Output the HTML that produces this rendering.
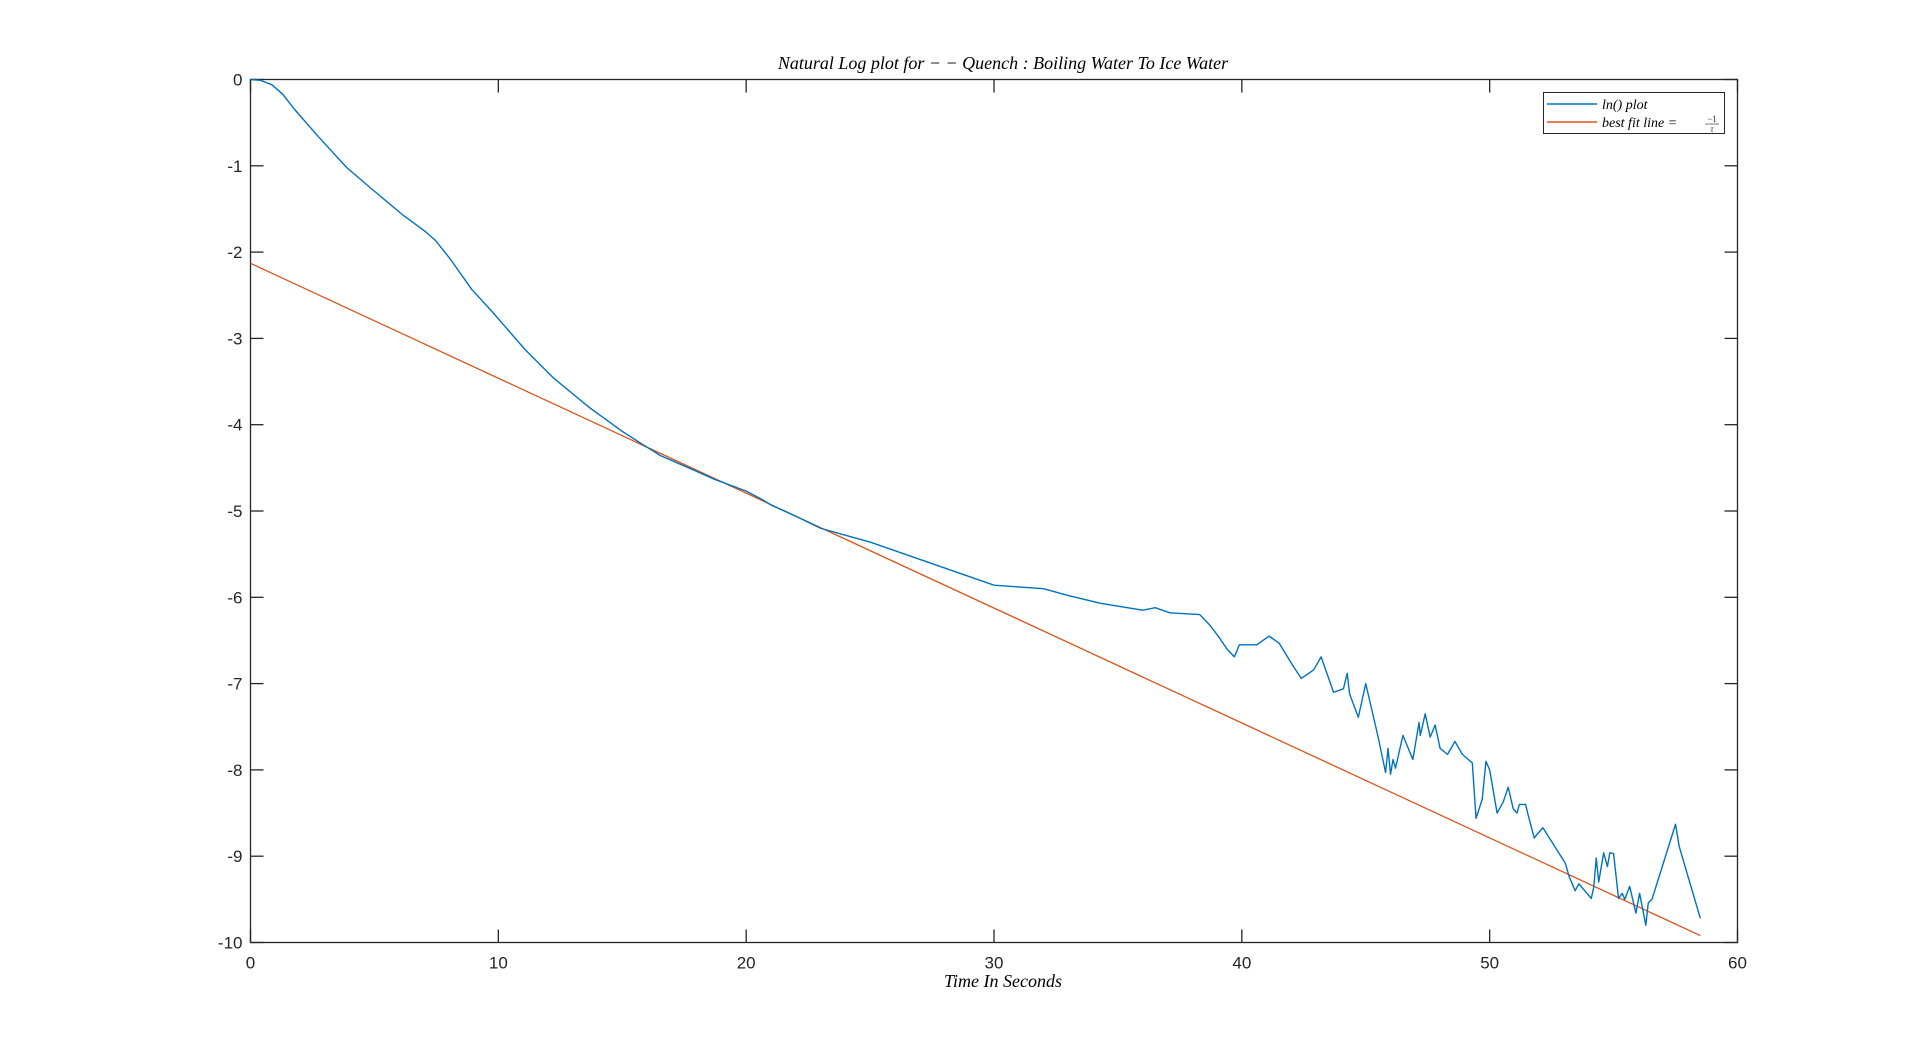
<!DOCTYPE html>
<html><head><meta charset="utf-8"><style>
html,body{margin:0;padding:0;background:#fff;}
svg{display:block;}
</style></head><body>
<svg id="chart" width="1920" height="1059" xmlns="http://www.w3.org/2000/svg"></svg>
<script>
const xTicks=[0,10,20,30,40,50,60];
const yTicks=[0,-1,-2,-3,-4,-5,-6,-7,-8,-9,-10];
const tVals=[0,0.4,0.86,1.3,1.73,2.73,3.88,4.9,6.19,7.05,7.48,8.06,8.92,9.78,11.08,12.23,13.67,14.96,15.83,16.55,17.84,18.7,20,20.6,21,22,23,24,25,26,27,28,29,30,31,32,33,34.3,36,36.5,37.1,38.3,38.7,39.1,39.4,39.7,39.9,40.6,41.1,41.5,42.1,42.4,42.9,43.2,43.7,44.1,44.25,44.35,44.7,45,45.5,45.8,45.9,46,46.1,46.2,46.5,46.9,47.15,47.2,47.4,47.6,47.8,48,48.3,48.6,48.9,49.3,49.45,49.7,49.85,50,50.3,50.55,50.75,50.95,51.1,51.2,51.45,51.55,51.8,51.9,52.15,53.05,53.2,53.45,53.6,54.1,54.2,54.3,54.4,54.6,54.75,54.85,55,55.2,55.35,55.45,55.65,55.9,56.05,56.3,56.4,56.55,57.5,57.65,58.5];
const lnVals=[0,-0.01,-0.06,-0.17,-0.33,-0.66,-1.02,-1.27,-1.58,-1.76,-1.87,-2.08,-2.43,-2.7,-3.13,-3.46,-3.8,-4.07,-4.23,-4.36,-4.52,-4.63,-4.77,-4.86,-4.93,-5.06,-5.2,-5.28,-5.36,-5.46,-5.56,-5.66,-5.76,-5.86,-5.88,-5.9,-5.98,-6.07,-6.15,-6.12,-6.18,-6.2,-6.32,-6.47,-6.6,-6.69,-6.55,-6.55,-6.45,-6.53,-6.81,-6.94,-6.84,-6.69,-7.1,-7.06,-6.88,-7.12,-7.39,-7.0,-7.62,-8.03,-7.75,-8.05,-7.88,-7.98,-7.6,-7.88,-7.45,-7.6,-7.35,-7.62,-7.48,-7.75,-7.82,-7.67,-7.82,-7.92,-8.56,-8.34,-7.9,-8.0,-8.5,-8.37,-8.2,-8.45,-8.5,-8.4,-8.4,-8.52,-8.79,-8.75,-8.67,-9.08,-9.23,-9.4,-9.32,-9.49,-9.36,-9.02,-9.3,-8.96,-9.12,-8.96,-8.97,-9.49,-9.43,-9.5,-9.35,-9.66,-9.43,-9.8,-9.54,-9.5,-8.63,-8.89,-9.72];
const fitT=[0,58.5];
const fitVals=[-2.13,-9.92];

const svg=document.getElementById('chart');
const NS='http://www.w3.org/2000/svg';
const L=250.5,R=1737.5,T=79.5,B=942.5;
const sx=v=>L+(v-0)/(60-0)*(R-L);
const sy=v=>T+(0-v)/(0-(-10))*(B-T);
function mk(tag,attrs,parent){const e=document.createElementNS(NS,tag);for(const k in attrs)e.setAttribute(k,attrs[k]);(parent||svg).appendChild(e);return e;}

const frame=mk('rect',{x:L,y:T,width:R-L,height:B-T,fill:'#fff',stroke:'#262626','stroke-width':1.3});



xTicks.forEach(v=>{
  const x=sx(v);
  const g=mk('g',{});
  
  
  mk('line',{x1:x,y1:B,x2:x,y2:B-13,stroke:'#262626','stroke-width':1.3},g);
  mk('line',{x1:x,y1:T,x2:x,y2:T+13,stroke:'#262626','stroke-width':1.3},g);
  const t=mk('text',{x:x,y:B+26,'text-anchor':'middle','font-family':'Liberation Sans, sans-serif','font-size':17,fill:'#262626'},g);
  t.textContent=v;
});
yTicks.forEach(v=>{
  const y=sy(v);
  const g=mk('g',{});
  
  
  mk('line',{x1:L,y1:y,x2:L+13,y2:y,stroke:'#262626','stroke-width':1.3},g);
  mk('line',{x1:R,y1:y,x2:R-13,y2:y,stroke:'#262626','stroke-width':1.3},g);
  const t=mk('text',{x:L-8,y:y+6,'text-anchor':'end','font-family':'Liberation Sans, sans-serif','font-size':17,fill:'#262626'},g);
  t.textContent=v;
});

const fit=mk('polyline',{points:fitT.map((t,i)=>sx(t)+','+sy(fitVals[i])).join(' '),fill:'none',stroke:'#D95319','stroke-width':1.3});


const ln=mk('polyline',{points:tVals.map((t,i)=>sx(t)+','+sy(lnVals[i])).join(' '),fill:'none',stroke:'#0072BD','stroke-width':1.4,'stroke-linejoin':'round'});



const title=mk('text',{x:1003,y:69,'text-anchor':'middle','font-family':'Liberation Serif, serif','font-style':'italic','font-size':18,fill:'#000'});
title.textContent='Natural Log plot for  \u2212 \u2212 Quench :  Boiling Water To Ice Water';


const xl=mk('text',{x:1003,y:997,'text-anchor':'middle','font-family':'Liberation Serif, serif','font-style':'italic','font-size':18,fill:'#000'});
xl.setAttribute('y',987);
xl.textContent='Time In Seconds';



const lg=mk('g',{});


mk('rect',{x:1543.5,y:92.5,width:181,height:41,fill:'#fff',stroke:'#262626','stroke-width':1},lg);
mk('line',{x1:1547,y1:104,x2:1597,y2:104,stroke:'#0072BD','stroke-width':1.4},lg);
mk('line',{x1:1547,y1:122,x2:1597,y2:122,stroke:'#D95319','stroke-width':1.4},lg);
const l1=mk('text',{x:1602,y:109,'font-family':'Liberation Serif, serif','font-style':'italic','font-size':14,fill:'#000'},lg);
l1.textContent='ln() plot';


const l2=mk('text',{x:1602,y:127,'font-family':'Liberation Serif, serif','font-style':'italic','font-size':14,fill:'#000'},lg);
l2.textContent='best  fit  line  =';


const f1=mk('text',{x:1712,y:122,'text-anchor':'middle','font-family':'Liberation Serif, serif','font-size':9,fill:'#333'},lg);
f1.textContent='\u22121';
mk('line',{x1:1705,y1:124,x2:1719,y2:124,stroke:'#555','stroke-width':0.8},lg);
const f2=mk('text',{x:1712,y:132,'text-anchor':'middle','font-family':'Liberation Serif, serif','font-style':'italic','font-size':9,fill:'#333'},lg);
f2.textContent='\u03c4';
</script>
</body></html>
